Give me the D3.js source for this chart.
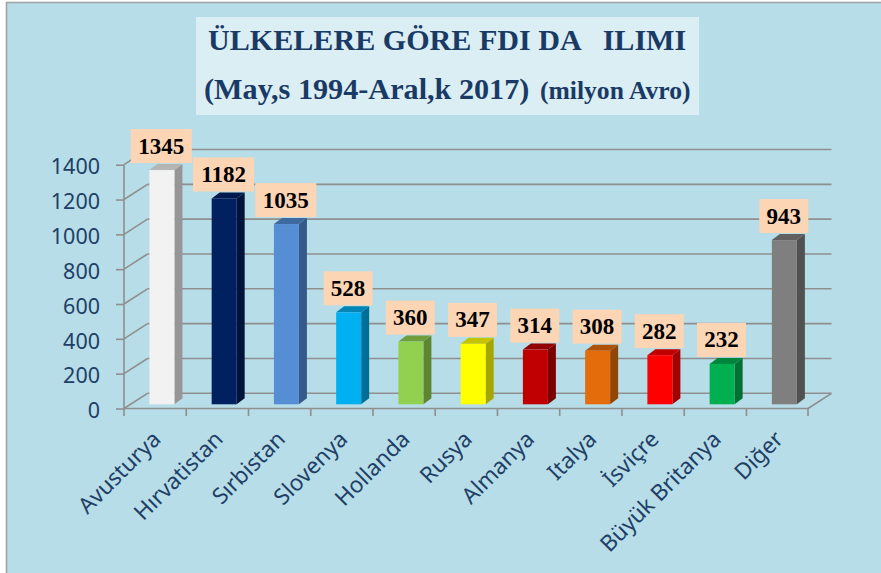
<!DOCTYPE html>
<html><head><meta charset="utf-8">
<script src="https://cdn.jsdelivr.net/npm/d3@7/dist/d3.min.js"></script>
<style>html,body{margin:0;padding:0;background:#fff}svg{display:block}</style></head>
<body><svg id="c" width="881" height="573"></svg>
<script>
const categories = ["Avusturya","Hırvatistan","Sırbistan","Slovenya","Hollanda","Rusya","Almanya","Italya","İsviçre","Büyük Britanya","Diğer"];
const values = [1345,1182,1035,528,360,347,314,308,282,232,943];
const yTicks = [0,200,400,600,800,1000,1200,1400];
const frontColors = ["#f2f2f2","#002060","#558ed5","#00b0f0","#92d050","#ffff00","#c00000","#e46c0a","#ff0000","#00b050","#7f7f7f"];
const sideColors = ["#969696","#00133a","#355a8a","#006f98","#5e8532","#a6a600","#7a0000","#914506","#a30000","#007033","#515151"];
const topColors = ["#b5b5b5","#001a4d","#3f6a9f","#0085b5","#6f9e3c","#c4c400","#920000","#ad5208","#c00000","#00853c","#606060"];

const svg = d3.select("#c");
const W = 881, H = 573;
const gridColor = "#8f8f8f", inkColor = "#1f3f66", titleColor = "#1a3a66";
const x = d3.scaleBand().domain(categories).range([124, 808.7]);
const y = d3.scaleLinear().domain([0, 1400]).range([408.5, 164.7]);
const wallDx = 23.5, wallDy = 15.2;
const barW = 25, barDx = 8, barDy = 6, barFrontDx = 6.8, barFrontDy = 4.2;

svg.append("rect").attr("width", W).attr("height", H).attr("fill", "#fff");
svg.append("rect").attr("x", 6.5).attr("y", 2.5).attr("width", W + 10).attr("height", H + 10)
  .attr("fill", "#b7dde8").attr("stroke", "#a3a3a3").attr("stroke-width", 1.6);

// walls and gridlines
const g = svg.append("g").attr("fill", "none").attr("stroke", gridColor).attr("stroke-width", 1.6);
g.selectAll("line.grid").data(yTicks).join("line").attr("class", "grid")
  .attr("x1", 124 + wallDx).attr("x2", 808 + wallDx)
  .attr("y1", d => y(d) - wallDy).attr("y2", d => y(d) - wallDy);
g.selectAll("line.diag").data(yTicks).join("line").attr("class", "diag")
  .attr("x1", 124).attr("x2", 124 + wallDx)
  .attr("y1", d => y(d)).attr("y2", d => y(d) - wallDy);
g.append("line").attr("x1", 808).attr("x2", 808 + wallDx).attr("y1", y(0)).attr("y2", y(0) - wallDy);
g.append("line").attr("x1", 124).attr("x2", 808).attr("y1", y(0)).attr("y2", y(0));

// x tick marks at band edges
const edges = categories.map(c => x(c)).concat([808]);
g.selectAll("line.xt").data(edges).join("line").attr("class", "xt")
  .attr("x1", d => d).attr("x2", d => d).attr("y1", y(0)).attr("y2", y(0) + 7.5);

// y axis
const yAxis = svg.append("g").attr("transform", "translate(124,0)")
  .call(d3.axisLeft(y).tickValues(yTicks).tickSize(8).tickPadding(16).tickFormat(d3.format("d")));
yAxis.selectAll("path,line").attr("stroke", gridColor).attr("stroke-width", 1.6);
yAxis.select("path").attr("d", `M0,${y(1400)}V${y(0)}`);
yAxis.selectAll("text").attr("font-family", "'Noto Sans'").attr("font-size", 21.5).attr("fill", inkColor).attr("dy", "0.43em");

// x labels
svg.append("g").selectAll("text").data(categories).join("text")
  .attr("transform", d => `translate(${x(d) + x.bandwidth() / 2 + 7},${y(0) + 32}) rotate(-45)`)
  .attr("text-anchor", "end")
  .attr("font-family", "'Noto Sans'").attr("font-size", 22.4).attr("fill", inkColor)
  .text(d => d);

// bars
const rows = categories.map((c, i) => ({c, v: values[i], i}));
const bar = svg.append("g").selectAll("g").data(rows).join("g");
const barLeft = d => x(d.c) + x.bandwidth() / 2 + barFrontDx - barW / 2;
const by0 = y(0) - barFrontDy;
const barTop = d => y(d.v) - barFrontDy;
bar.append("polygon").attr("fill", d => sideColors[d.i])
  .attr("points", d => {
    const r = barLeft(d) + barW;
    return [[r, barTop(d)], [r + barDx, barTop(d) - barDy], [r + barDx, by0 - barDy], [r, by0]].join(" ");
  });
bar.append("polygon").attr("fill", d => topColors[d.i])
  .attr("points", d => {
    const l = barLeft(d), t = barTop(d);
    return [[l, t], [l + barDx, t - barDy], [l + barW + barDx, t - barDy], [l + barW, t]].join(" ");
  });
bar.append("rect").attr("fill", d => frontColors[d.i])
  .attr("x", barLeft).attr("width", barW).attr("y", barTop).attr("height", d => by0 - barTop(d));

// value labels
const boxH = 34;
const lab = svg.append("g").selectAll("g").data(rows).join("g")
  .attr("transform", d => `translate(${x(d.c) + x.bandwidth() / 2 + 6.2},${barTop(d) - 7})`);
lab.append("rect").attr("fill", "#fcd5b5")
  .attr("x", d => d.v >= 1000 ? -30.5 : -24.5).attr("width", d => d.v >= 1000 ? 61 : 49)
  .attr("y", -boxH).attr("height", boxH);
lab.append("text").attr("text-anchor", "middle").attr("y", -9.5)
  .attr("font-family", "'Liberation Serif'").attr("font-weight", "bold").attr("font-size", 23).attr("fill", "#000")
  .text(d => d.v);

// title
svg.append("rect").attr("x", 196).attr("y", 17).attr("width", 503).attr("height", 98).attr("fill", "#dbeef4");
const tf = "'Liberation Serif'";
svg.append("text").attr("x", 208).attr("y", 50).attr("xml:space", "preserve").style("white-space", "pre")
  .attr("font-family", tf).attr("font-weight", "bold").attr("font-size", 30.1).attr("fill", titleColor)
  .text("ÜLKELERE GÖRE FDI DA   ILIMI");
const t2 = svg.append("text").attr("x", 204).attr("y", 99).style("white-space", "pre")
  .attr("font-family", tf).attr("font-weight", "bold").attr("fill", titleColor);
t2.append("tspan").attr("font-size", 30.2).text("(May,s 1994-Aral,k 2017)");
t2.append("tspan").attr("font-size", 25.6).attr("x", 540).text("(milyon Avro)");
</script></body></html>
